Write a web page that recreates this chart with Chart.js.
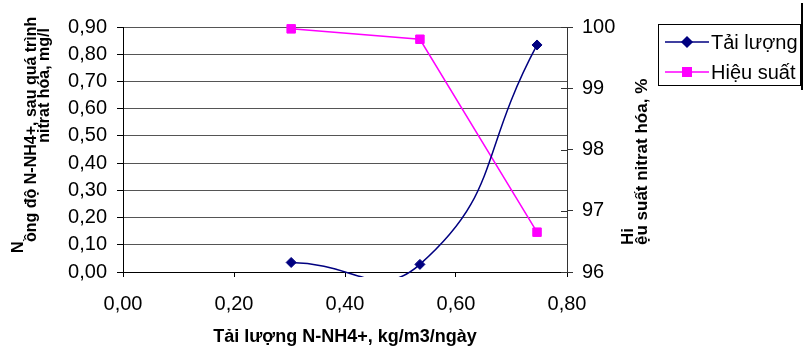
<!DOCTYPE html>
<html>
<head>
<meta charset="utf-8">
<script src="https://cdn.jsdelivr.net/npm/chart.js@4.4.1/dist/chart.umd.min.js"></script>
<style>
  html, body { margin: 0; padding: 0; background: #fff; }
</style>
</head>
<body>
<canvas id="chart" width="803" height="356"></canvas>
<script>
// values
const loadValues = [0.303, 0.535, 0.746];       // x: Tải lượng N-NH4+, kg/m3/ngày
const residualN = [0.035, 0.028, 0.834];        // left axis, mg/l
const efficiency = [99.97, 99.80, 96.65];       // right axis, %
const seriesNames = ['Tải lượng', 'Hiệu suất'];
const xTitle = 'Tải lượng N-NH4+, kg/m3/ngày';
const leftTitle = ['N', 'ồng độ N-NH4+, sau quá trình', 'nitrat hóa, mg/l'];
const rightTitle = ['Hi', 'ệu suất nitrat hóa, %'];

const FONT = '"Liberation Sans", Arial, sans-serif';
Chart.defaults.font.family = FONT;
Chart.defaults.color = '#000';

const comma2 = v => Number(v).toFixed(2).replace('.', ',');

// rotated axis titles, drawn the way the original wraps them
const titlePlugin = {
  id: 'titles',
  afterDraw(chart) {
    const ctx = chart.ctx;
    ctx.save();
    ctx.fillStyle = '#000';
    ctx.font = 'bold 16px ' + FONT;
    ctx.textBaseline = 'alphabetic';
    const put = (text, x, y, align) => {
      ctx.save();
      ctx.translate(x, y);
      ctx.rotate(-Math.PI / 2);
      ctx.textAlign = align;
      ctx.fillText(text, 0, 0);
      ctx.restore();
    };
    put(leftTitle[0], 23, 253, 'left');
    put(leftTitle[1], 36, 242, 'left');
    put(leftTitle[2], 49, 28, 'right');
    ctx.font = 'bold 17px ' + FONT;
    put(rightTitle[0], 633, 245, 'left');
    put(rightTitle[1], 647, 245, 'left');
    // small inner tick marks on the right axis
    const y2 = chart.scales.y2;
    ctx.strokeStyle = '#333';
    ctx.lineWidth = 1;
    y2.ticks.forEach(t => {
      const py = Math.round(y2.getPixelForValue(t.value)) + 0.5;
      ctx.beginPath();
      ctx.moveTo(y2.left - 6, py);
      ctx.lineTo(y2.left, py);
      ctx.stroke();
    });
    ctx.restore();
  }
};

// boxed legend at the top right
const legendPlugin = {
  id: 'boxLegend',
  afterDraw(chart) {
    const ctx = chart.ctx;
    ctx.save();
    ctx.strokeStyle = '#000';
    ctx.lineWidth = 1;
    ctx.strokeRect(658.5, 24.5, 142, 61);
    ctx.fillStyle = '#000';
    ctx.fillRect(801, 3, 2, 87);
    chart.data.datasets.forEach((ds, i) => {
      const y = 42 + i * 30;
      ctx.strokeStyle = ds.borderColor;
      ctx.lineWidth = 1.5;
      ctx.beginPath();
      ctx.moveTo(665, y);
      ctx.lineTo(709, y);
      ctx.stroke();
      ctx.fillStyle = ds.pointBackgroundColor;
      ctx.strokeStyle = ds.borderColor;
      Chart.helpers.drawPoint(ctx, {
        pointStyle: ds.pointStyle, radius: ds.pointRadius, rotation: 0, borderWidth: 1
      }, 687, y);
      ctx.fillStyle = '#000';
      ctx.font = '20px ' + FONT;
      ctx.textAlign = 'left';
      ctx.textBaseline = 'middle';
      ctx.fillText(ds.label, 711, y + 1);
    });
    ctx.restore();
  }
};

new Chart(document.getElementById('chart'), {
  type: 'line',
  data: {
    datasets: [
      {
        label: seriesNames[0],
        data: loadValues.map((x, i) => ({ x: x, y: residualN[i] })),
        yAxisID: 'y',
        borderColor: '#000080',
        backgroundColor: '#000080',
        pointBackgroundColor: '#000080',
        borderWidth: 1.5,
        pointStyle: 'rectRot',
        pointRadius: 5,
        pointBorderWidth: 1,
        tension: 0.5,
        capBezierPoints: false,
        clip: { left: 10, top: 10, right: 10, bottom: 5 }
      },
      {
        label: seriesNames[1],
        data: loadValues.map((x, i) => ({ x: x, y: efficiency[i] })),
        yAxisID: 'y2',
        borderColor: '#FF00FF',
        backgroundColor: '#FF00FF',
        pointBackgroundColor: '#FF00FF',
        borderWidth: 1.5,
        pointStyle: 'rect',
        pointRadius: 6,
        pointBorderWidth: 1,
        tension: 0,
        clip: 10
      }
    ]
  },
  options: {
    responsive: false,
    animation: false,
    devicePixelRatio: 1,
    layout: { padding: { top: 27, left: 0, right: 0, bottom: 0 } },
    plugins: {
      legend: { display: false },
      tooltip: { enabled: false }
    },
    scales: {
      x: {
        type: 'linear',
        min: 0,
        max: 0.8,
        afterFit: s => { s.height = 84; },
        ticks: { stepSize: 0.2, padding: 15, font: { size: 20 }, callback: comma2 },
        grid: { drawOnChartArea: false, tickLength: 5, tickColor: '#000' },
        border: { color: '#000' },
        title: {
          display: true,
          text: xTitle,
          font: { size: 18, weight: 'bold' },
          padding: { top: 0, bottom: 8 }
        }
      },
      y: {
        position: 'left',
        min: 0,
        max: 0.9,
        afterFit: s => { s.width = 123; },
        ticks: { stepSize: 0.1, padding: 10, font: { size: 20 }, callback: comma2 },
        grid: { color: '#555', tickColor: '#000', tickLength: 6 },
        border: { color: '#000' }
      },
      y2: {
        position: 'right',
        min: 96,
        max: 100,
        afterFit: s => { s.width = 236; },
        ticks: { stepSize: 1, padding: 9, font: { size: 20 } },
        grid: { drawOnChartArea: false, tickColor: '#333', tickLength: 6 },
        border: { color: '#333' }
      }
    }
  },
  plugins: [titlePlugin, legendPlugin]
});
</script>
</body>
</html>
